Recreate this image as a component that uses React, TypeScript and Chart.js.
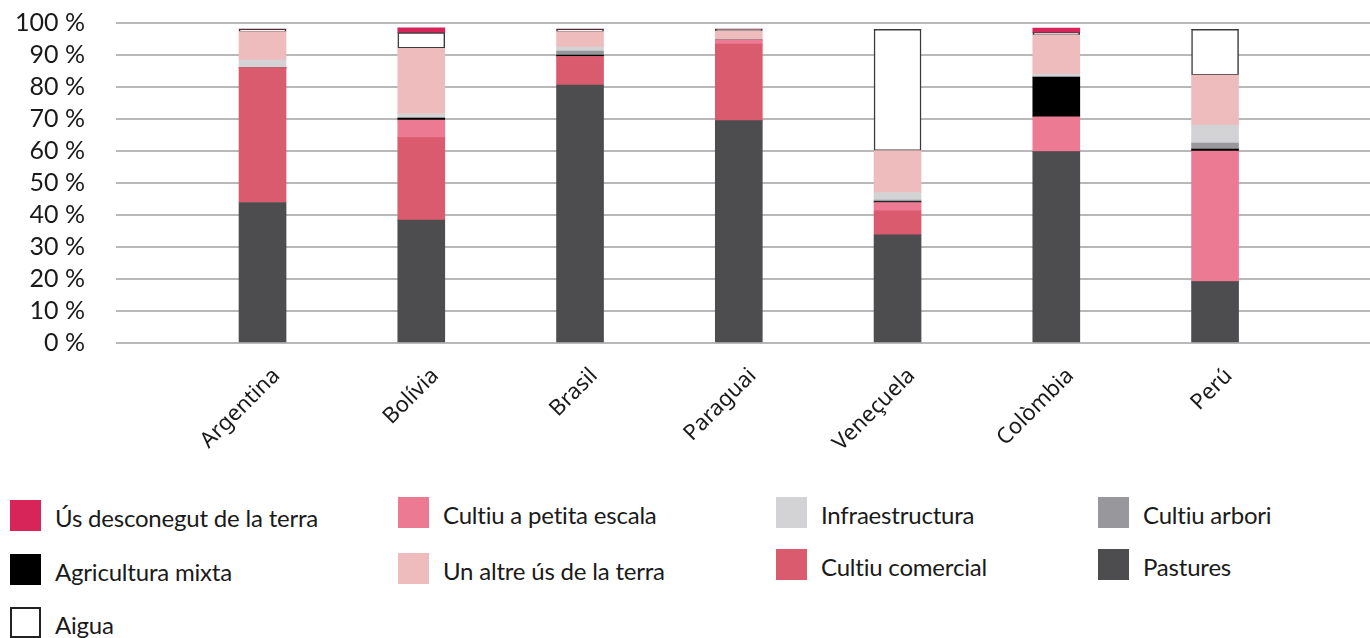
import React, { useEffect, useRef } from 'react';
import { Chart, registerables } from 'chart.js';

Chart.register(...registerables);

// ---- data ----
const countries = ['Argentina', 'Bolívia', 'Brasil', 'Paraguai', 'Veneçuela', 'Colòmbia', 'Perú'];

const pastures = [43.9, 38.4, 80.6, 69.5, 33.8, 59.8, 19.2];
const cultiuComercial = [42.1, 25.8, 8.9, 23.9, 7.5, 0, 0];
const cultiuPetitaEscala = [0, 5.5, 0, 1.3, 2.6, 10.9, 40.8];
const agriculturaMixta = [0, 0.6, 0.5, 0, 0.3, 12.4, 0.6];
const cultiuArbori = [0, 0, 1.25, 0, 0.5, 0, 1.9];
const infraestructura = [2.4, 1.3, 1.25, 0, 2.3, 0.9, 5.6];
const altreUs = [8.9, 20.5, 4.8, 2.8, 13.1, 12.2, 15.6];
const aigua = [0.8, 4.9, 0.8, 0.6, 37.9, 0.8, 14.3];
const usDesconegut = [0, 1.5, 0, 0, 0, 1.4, 0];

const yTicks = [0, 10, 20, 30, 40, 50, 60, 70, 80, 90, 100];

// series (bottom to top)
const series = [
  { label: 'Pastures', data: pastures, color: '#4d4d4f' },
  { label: 'Cultiu comercial', data: cultiuComercial, color: '#da5b6e' },
  { label: 'Cultiu a petita escala', data: cultiuPetitaEscala, color: '#ec7a93' },
  { label: 'Agricultura mixta', data: agriculturaMixta, color: '#000000' },
  { label: 'Cultiu arbori', data: cultiuArbori, color: '#98989c' },
  { label: 'Infraestructura', data: infraestructura, color: '#d3d3d5' },
  { label: 'Un altre ús de la terra', data: altreUs, color: '#eebcbd' },
  { label: 'Aigua', data: aigua, color: '#ffffff', border: '#3a3a3a' },
  { label: 'Ús desconegut de la terra', data: usDesconegut, color: '#d7255a' },
];

// legend layout (label -> position)
const legendLayout: { label: string; x: number; y: number }[] = [
  { label: 'Ús desconegut de la terra', x: 10, y: 500 },
  { label: 'Agricultura mixta', x: 10, y: 554 },
  { label: 'Aigua', x: 10, y: 607 },
  { label: 'Cultiu a petita escala', x: 398, y: 497 },
  { label: 'Un altre ús de la terra', x: 398, y: 553 },
  { label: 'Infraestructura', x: 776, y: 497 },
  { label: 'Cultiu comercial', x: 776, y: 549 },
  { label: 'Cultiu arbori', x: 1098, y: 497 },
  { label: 'Pastures', x: 1098, y: 549 },
];

const CANVAS_W = 1370;
const CANVAS_H = 470;

export default function App() {
  const ref = useRef<HTMLCanvasElement | null>(null);

  useEffect(() => {
    if (!ref.current) return;
    const chart = new Chart(ref.current, {
      type: 'bar',
      data: {
        datasets: series.map((s) => ({
          label: s.label,
          data: s.data.map((v, i) => ({ x: i + 1, y: v })),
          backgroundColor: s.color,
          borderColor: s.border || s.color,
          borderWidth: s.border ? 1.5 : 0,
          borderSkipped: false,
          barThickness: 47,
        })),
      },
      options: {
        animation: false,
        responsive: false,
        devicePixelRatio: 1,
        layout: { padding: { top: 23, left: 0, right: 0, bottom: 0 } },
        plugins: { legend: { display: false }, tooltip: { enabled: false } },
        scales: {
          x: {
            type: 'linear',
            stacked: true,
            min: 0.077,
            max: 7.976,
            offset: false,
            grid: { display: false },
            border: { display: false },
            afterBuildTicks: (scale: any) => {
              scale.ticks = countries.map((_, i) => ({ value: i + 1 }));
            },
            afterFit: (scale: any) => {
              scale.height = CANVAS_H - 343;
              scale.paddingLeft = 0;
              scale.paddingRight = 0;
            },
            ticks: {
              autoSkip: false,
              maxRotation: 45,
              minRotation: 45,
              padding: 12,
              labelOffset: 14,
              color: '#1a1a1a',
              font: { family: '"Noto Sans", "DejaVu Sans", sans-serif', size: 22 },
              callback: (v: any) => countries[Math.round(Number(v)) - 1] ?? '',
            },
          },
          y: {
            stacked: true,
            min: 0,
            max: 100,
            grid: { color: '#b8b8b8', lineWidth: 2, drawTicks: false },
            border: { display: false },
            afterBuildTicks: (scale: any) => {
              scale.ticks = yTicks.map((v) => ({ value: v }));
            },
            afterFit: (scale: any) => {
              scale.width = 116;
              scale.paddingTop = 0;
              scale.paddingBottom = 0;
            },
            ticks: {
              autoSkip: false,
              padding: 31,
              color: '#1a1a1a',
              font: { family: 'Lato, sans-serif', size: 25 },
              callback: (v: any) => `${v} %`,
            },
          },
        },
      },
    } as any);
    return () => chart.destroy();
  }, []);

  const byLabel = new Map(series.map((s) => [s.label, s]));

  return (
    <div style={{ position: 'absolute', left: 0, top: 0, width: 1370, height: 638, background: '#fff', fontFamily: 'Lato, sans-serif' }}>
      <canvas ref={ref} width={CANVAS_W} height={CANVAS_H} style={{ position: 'absolute', left: 0, top: 0, width: CANVAS_W, height: CANVAS_H }} />
      {legendLayout.map((item) => {
        const s = byLabel.get(item.label)!;
        return (
          <div key={item.label} style={{ position: 'absolute', left: item.x, top: item.y, height: 31, display: 'flex', alignItems: 'center' }}>
            <div
              style={{
                width: 31,
                height: 31,
                boxSizing: 'border-box',
                background: s.color,
                border: s.border ? '2px solid #222' : 'none',
              }}
            />
            <span style={{ marginLeft: 14, fontSize: 24, letterSpacing: -0.2, color: '#1a1a1a', whiteSpace: 'nowrap', lineHeight: '31px', position: 'relative', top: 2 }}>{item.label}</span>
          </div>
        );
      })}
    </div>
  );
}
